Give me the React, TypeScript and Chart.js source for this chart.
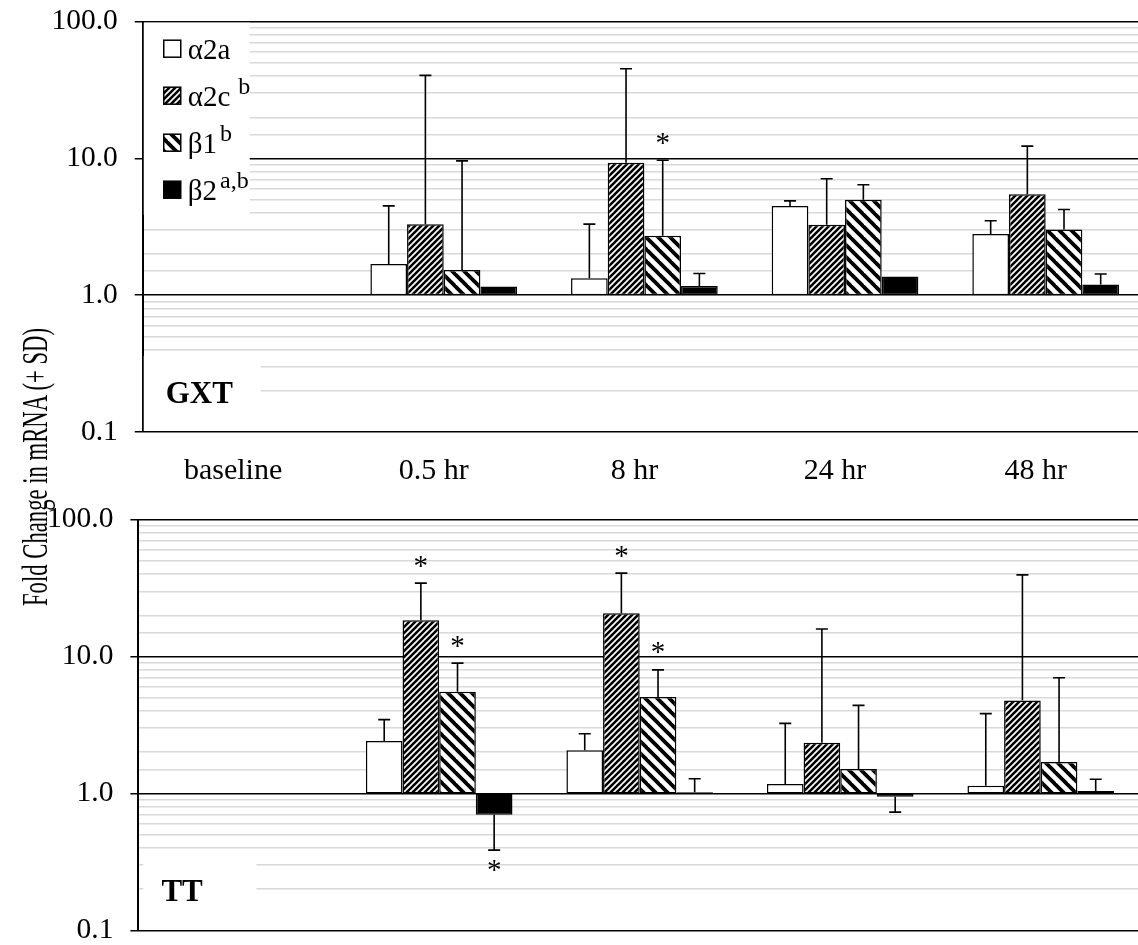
import React, { useEffect, useRef } from 'react';
import { Chart, registerables } from 'chart.js';

Chart.register(...registerables);

// ---------- data ----------
const categories = ['baseline', '0.5 hr', '8 hr', '24 hr', '48 hr'];
const seriesNames = ['α2a', 'α2c', 'β1', 'β2'];
const seriesSup = ['', 'b', 'b', 'a,b'];
const yTickValues = [0.1, 1, 10, 100];

// GXT panel (fold change, and end of +SD whisker)
const gxtA2a = [1.0, 1.69, 1.33, 4.5, 2.8];
const gxtA2c = [1.0, 3.31, 9.3, 3.27, 5.47];
const gxtB1 = [1.0, 1.53, 2.72, 5.0, 3.03];
const gxtB2 = [1.0, 1.16, 1.17, 1.37, 1.2];
const gxtA2aSD = [null, 4.5, 3.31, 4.9, 3.5];
const gxtA2cSD = [null, 40.5, 45.3, 7.1, 12.3];
const gxtB1SD = [null, 9.6, 9.7, 6.43, 4.23];
const gxtB2SD = [null, null, 1.44, null, 1.43];
const gxtA2aSig = [false, false, false, false, false];
const gxtA2cSig = [false, false, false, false, false];
const gxtB1Sig = [false, false, true, false, false];
const gxtB2Sig = [false, false, false, false, false];

// TT panel
const ttA2a = [1.0, 2.42, 2.07, 1.17, 1.14];
const ttA2c = [1.0, 18.4, 20.7, 2.35, 4.78];
const ttB1 = [1.0, 5.53, 5.06, 1.51, 1.7];
const ttB2 = [1.0, 0.7, 1.02, 0.946, 1.04];
const ttA2aSD = [null, 3.46, 2.73, 3.25, 3.83];
const ttA2cSD = [null, 34.4, 40.7, 15.9, 39.5];
const ttB1SD = [null, 8.95, 8.0, 4.4, 7.0];
const ttB2SD = [null, 0.385, 1.28, 0.73, 1.27];
const ttA2aSig = [false, false, false, false, false];
const ttA2cSig = [false, true, true, false, false];
const ttB1Sig = [false, true, true, false, false];
const ttB2Sig = [false, true, false, false, false];

const FONT = "'Liberation Serif', 'Times New Roman', serif";

type Panel = {
  name: string;
  values: number[][];
  sd: (number | null)[][];
  sig: boolean[][];
  showLegend: boolean;
  showX: boolean;
};

const panels: Panel[] = [
  {
    name: 'GXT',
    values: [gxtA2a, gxtA2c, gxtB1, gxtB2],
    sd: [gxtA2aSD, gxtA2cSD, gxtB1SD, gxtB2SD],
    sig: [gxtA2aSig, gxtA2cSig, gxtB1Sig, gxtB2Sig],
    showLegend: true,
    showX: true,
  },
  {
    name: 'TT',
    values: [ttA2a, ttA2c, ttB1, ttB2],
    sd: [ttA2aSD, ttA2cSD, ttB1SD, ttB2SD],
    sig: [ttA2aSig, ttA2cSig, ttB1Sig, ttB2Sig],
    showLegend: false,
    showX: false,
  },
];

function isMajor(v: number | undefined): boolean {
  if (v == null || v <= 0) return false;
  const l = Math.log10(v);
  return Math.abs(l - Math.round(l)) < 1e-6;
}

function fmt(v: number): string {
  return v >= 1 ? v.toFixed(1) : String(Math.round(v * 10) / 10);
}

function makeStripe(size: number, width: number, dir: 'up' | 'down'): CanvasPattern | string {
  const c = document.createElement('canvas');
  c.width = size;
  c.height = size;
  const g = c.getContext('2d');
  if (!g) return '#888';
  g.fillStyle = '#fff';
  g.fillRect(0, 0, size, size);
  g.strokeStyle = '#000';
  g.lineWidth = width;
  g.lineCap = 'square';
  for (let k = -1; k <= 1; k++) {
    g.beginPath();
    if (dir === 'up') {
      g.moveTo(k * size, size);
      g.lineTo(k * size + size, 0);
    } else {
      g.moveTo(k * size, 0);
      g.lineTo(k * size + size, size);
    }
    g.stroke();
  }
  const p = g.createPattern(c, 'repeat');
  return p || '#888';
}

function PanelChart({ panel, fills, left, top, width, height, yAxisWidth, xHeight }: any) {
  const ref = useRef<HTMLCanvasElement | null>(null);
  useEffect(() => {
    if (!ref.current) return;
    const overlay = {
      id: 'overlay' + panel.name,
      beforeDatasetsDraw(chart: any) {
        const ctx = chart.ctx;
        const a = chart.chartArea;
        ctx.save();
        ctx.fillStyle = '#fff';
        if (panel.showLegend) {
          ctx.fillRect(a.left + 1, a.top + 1, 106, 192);
          seriesNames.forEach((nm, i) => {
            const cy = a.top + 27 + i * 47;
            const sx = a.left + 21;
            ctx.fillStyle = fills[i];
            ctx.fillRect(sx, cy - 8.5, 17, 17);
            ctx.strokeStyle = '#000';
            ctx.lineWidth = 1.5;
            ctx.strokeRect(sx, cy - 8.5, 17, 17);
            ctx.fillStyle = '#000';
            ctx.font = `29px ${FONT}`;
            ctx.textAlign = 'left';
            ctx.textBaseline = 'alphabetic';
            const tx = sx + 24;
            const by = cy + 10;
            ctx.fillText(nm, tx, by);
            const w = ctx.measureText(nm).width;
            if (seriesSup[i]) {
              ctx.font = `24px ${FONT}`;
              ctx.fillText(seriesSup[i], tx + w + (i === 1 ? 8 : 3), by - 12);
            }
          });
        }
        // panel label box
        ctx.fillStyle = '#fff';
        const bx = panel.showLegend ? a.left + 1 : a.left + 5;
        ctx.fillRect(bx, a.bottom - 76, a.left + 118 - bx, 75);
        ctx.fillStyle = '#000';
        ctx.font = `bold 31px ${FONT}`;
        ctx.textAlign = 'left';
        ctx.textBaseline = 'alphabetic';
        ctx.fillText(panel.name, a.left + 23, a.bottom - 29);
        ctx.restore();
      },
      afterDatasetsDraw(chart: any) {
        const ctx = chart.ctx;
        const ys = chart.scales.y;
        ctx.save();
        ctx.strokeStyle = '#000';
        ctx.fillStyle = '#000';
        ctx.lineWidth = 1.6;
        panel.values.forEach((vals: number[], i: number) => {
          const meta = chart.getDatasetMeta(i);
          vals.forEach((v: number, j: number) => {
            const el = meta.data[j];
            if (!el) return;
            const x = el.x;
            const e = panel.sd[i][j];
            const y0 = ys.getPixelForValue(v);
            let yEnd = y0;
            if (e != null) {
              const y1 = ys.getPixelForValue(e);
              ctx.beginPath();
              ctx.moveTo(x, y0);
              ctx.lineTo(x, y1);
              ctx.moveTo(x - 6, y1);
              ctx.lineTo(x + 6, y1);
              ctx.stroke();
              yEnd = y1;
            }
            if (panel.sig[i][j]) {
              ctx.font = `29px ${FONT}`;
              ctx.textAlign = 'center';
              ctx.textBaseline = 'middle';
              if (v >= 1) ctx.fillText('*', x, yEnd - 16);
              else ctx.fillText('*', x, yEnd + 21);
            }
          });
        });
        ctx.restore();
      },
    };

    const chart = new Chart(ref.current, {
      type: 'bar',
      data: {
        labels: categories,
        datasets: panel.values.map((vals: number[], i: number) => ({
          label: seriesNames[i],
          data: vals.map((v) => [1, v]),
          backgroundColor: fills[i],
          borderColor: '#000',
          borderWidth: 1.5,
          borderSkipped: false,
          categoryPercentage: 0.731,
          barPercentage: 1,
        })),
      },
      options: {
        animation: false,
        responsive: false,
        maintainAspectRatio: false,
        devicePixelRatio: 1,
        layout: { padding: 0 },
        plugins: { legend: { display: false }, tooltip: { enabled: false } },
        scales: {
          x: {
            type: 'category',
            display: panel.showX,
            grid: { display: false, drawTicks: false },
            border: { display: false },
            ticks: {
              color: '#000',
              font: { family: FONT, size: 30 },
              padding: 21,
              labelOffset: -10,
              autoSkip: false,
              maxRotation: 0,
            },
            afterFit: (s: any) => {
              s.height = xHeight;
            },
          },
          y: {
            type: 'logarithmic',
            min: 0.1,
            max: 100,
            afterFit: (s: any) => {
              s.width = yAxisWidth;
            },
            border: { display: true, color: '#000', width: 2 },
            grid: {
              color: (c: any) => (isMajor(c.tick && c.tick.value) ? '#000' : '#d9d9d9'),
              lineWidth: 1.5,
              tickColor: (c: any) => (isMajor(c.tick && c.tick.value) ? '#000' : 'rgba(0,0,0,0)'),
              tickLength: 8,
              drawTicks: true,
            },
            ticks: {
              autoSkip: false,
              color: '#000',
              padding: 17,
              font: { family: FONT, size: 29.5 },
              callback: (v: any) => (yTickValues.some((t) => Math.abs(t - Number(v)) < 1e-9) ? fmt(Number(v)) : ''),
            },
          },
        },
      },
      plugins: [overlay],
    } as any);
    return () => chart.destroy();
  }, []);
  return (
    <canvas
      ref={ref}
      width={width}
      height={height}
      style={{ position: 'absolute', left, top, width, height }}
    />
  );
}

export default function App() {
  const fills = [
    '#ffffff',
    makeStripe(6, 2.6, 'up'),
    makeStripe(12, 3.8, 'down'),
    '#000000',
  ];
  return (
    <div
      style={{
        position: 'fixed',
        left: 0,
        top: 0,
        width: 1138,
        height: 945,
        overflow: 'hidden',
        background: '#fff',
      }}
    >
      <PanelChart
        panel={panels[0]}
        fills={fills}
        left={0}
        top={-13}
        width={1146}
        height={513}
        yAxisWidth={142.75}
        xHeight={68}
      />
      <PanelChart
        panel={panels[1]}
        fills={fills}
        left={0}
        top={485}
        width={1141}
        height={480}
        yAxisWidth={138.4}
        xHeight={0}
      />
      <div
        style={{
          position: 'absolute',
          left: 35,
          top: 467,
          transform: 'translate(-50%, -50%) rotate(-90deg) scaleX(0.63)',
          fontFamily: FONT,
          fontSize: 36,
          lineHeight: 1,
          whiteSpace: 'nowrap',
          color: '#000',
        }}
      >
        Fold Change in mRNA (+ SD)
      </div>
    </div>
  );
}
